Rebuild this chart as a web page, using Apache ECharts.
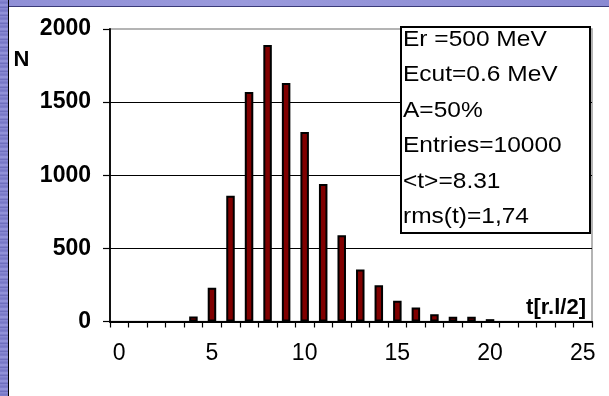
<!DOCTYPE html>
<html>
<head>
<meta charset="utf-8">
<script src="https://cdn.jsdelivr.net/npm/echarts@6/dist/echarts.min.js"></script>
<style>
  html, body { margin: 0; padding: 0; }
  #wrap { position: relative; width: 609px; height: 396px; background: #ffffff; overflow: hidden; }
  #topband { position: absolute; left: 0; top: 0; width: 609px; height: 6px;
    background: linear-gradient(to right, #8f8fd6, #9a9adc 40%, #8a8ad2); border-bottom: 1px solid #3a3a78; }
  #leftband { position: absolute; left: 0; top: 0; width: 8px; height: 396px;
    background: repeating-linear-gradient(to bottom, #8c8cd4 0px, #7474c4 3px, #9a9ade 5px, #6666b8 8px);
    border-right: 1px solid #000; }
  #chart { position: absolute; left: 0; top: 0; width: 609px; height: 396px; }
</style>
</head>
<body>
<div id="wrap">
  <div id="topband"></div>
  <div id="leftband"></div>
  <div id="chart"></div>
</div>
<script>
// ---- data ----
var categories = ['0','1','2','3','4','5','6','7','8','9','10','11','12','13','14','15','16','17','18','19','20','21','22','23','24','25'];
var counts = [0, 0, 0, 0, 35, 230, 860, 1570, 1890, 1630, 1295, 940, 590, 355, 248, 142, 96, 50, 32, 32, 16, 0, 0, 0, 0, 0];
var yTicks = [0, 500, 1000, 1500, 2000];
var infoLines = ['Er =500 MeV', 'Ecut=0.6 MeV', 'A=50%', 'Entries=10000', '<t>=8.31', 'rms(t)=1,74'];
var yAxisTitle = 'N';
var xAxisTitle = 't[r.l/2]';

var FONT = '"Liberation Sans", Arial, sans-serif';
var chart = echarts.init(document.getElementById('chart'), null, { renderer: 'canvas' });

var graphics = [
  { type: 'text', x: 21.5, y: 60, z: 100,
    style: { text: yAxisTitle, font: 'bold 22px ' + FONT, fill: '#000', align: 'center', verticalAlign: 'middle' } },
  { type: 'text', x: 586, y: 308, z: 100,
    style: { text: xAxisTitle, font: 'bold 22px ' + FONT, fill: '#000', align: 'right', verticalAlign: 'middle' } },
  { type: 'rect', z: 100, shape: { x: 401, y: 27, width: 189, height: 206 },
    style: { fill: '#fff', stroke: '#000', lineWidth: 2 } }
];
infoLines.forEach(function (t, i) {
  graphics.push({ type: 'text', x: 403, y: 40 + i * 35.4, z: 101, scaleX: 1.14, scaleY: 1,
    style: { text: t, font: '21.5px ' + FONT, fill: '#000', align: 'left', verticalAlign: 'middle' } });
});

chart.setOption({
  animation: false,
  backgroundColor: 'transparent',
  grid: { left: 110, top: 29, right: 17, bottom: 74.5, show: true, borderColor: '#9c9c9c', borderWidth: 1.5, backgroundColor: 'transparent' },
  xAxis: {
    type: 'category',
    data: categories,
    boundaryGap: true,
    axisLine: { lineStyle: { color: '#000', width: 2 } },
    axisTick: { show: true, interval: 0, length: 6, lineStyle: { color: '#000', width: 1.2 } },
    axisLabel: { interval: 4, margin: 21, color: '#000', fontFamily: FONT, fontSize: 23 },
    splitLine: { show: false }
  },
  yAxis: {
    type: 'value',
    min: yTicks[0], max: yTicks[yTicks.length - 1], interval: 500,
    axisLine: { show: true, lineStyle: { color: '#000', width: 1.8 } },
    axisTick: { show: true, length: 7, lineStyle: { color: '#000', width: 1.2 } },
    axisLabel: { margin: 19, color: '#000', fontFamily: FONT, fontSize: 23, fontWeight: 'bold',
      formatter: function (v) { return String(v); } },
    splitLine: { show: true, showMaxLine: false, lineStyle: { color: '#000', width: 1.2 } }
  },
  series: [{
    type: 'bar',
    data: counts.map(function (v) { return v === 0 ? '-' : v; }),
    barWidth: 8.5,
    itemStyle: { color: '#800000', borderColor: '#000', borderWidth: 2 }
  }],
  graphic: graphics
});
</script>
</body>
</html>
